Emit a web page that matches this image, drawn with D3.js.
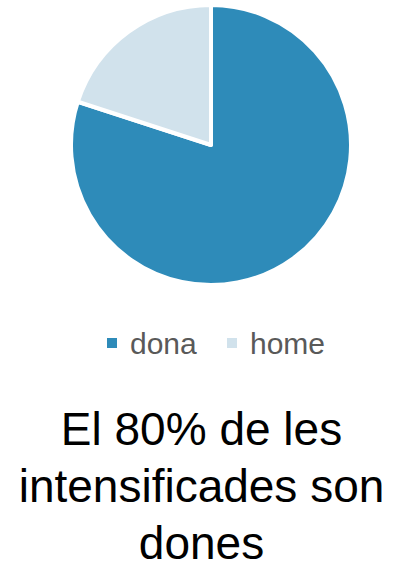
<!DOCTYPE html>
<html>
<head>
<meta charset="utf-8">
<script src="https://cdn.jsdelivr.net/npm/d3@7"></script>
<style>
  html, body { margin: 0; padding: 0; background: #fff; }
  svg { display: block; }
</style>
</head>
<body>
<div id="chart"></div>
<script>
// data
const categories = ["dona", "home"];
const shares = [80, 20];
const sliceColors = ["#2e8bb9", "#d1e2ec"];
const titleLines = ["El 80% de les", "intensificades son", "dones"];

(function () {
  "use strict";

  const width = 403, height = 564;
  const cx = 211, cy = 145, radius = 140;

  const svg = d3.select("#chart").append("svg")
    .attr("width", width)
    .attr("height", height);

  const data = categories.map((c, i) => ({ label: c, value: shares[i] }));

  const color = d3.scaleOrdinal()
    .domain(categories)
    .range(sliceColors);

  const pie = d3.pie()
    .sort(null)
    .value(d => d.value);

  const arc = d3.arc()
    .innerRadius(0)
    .outerRadius(radius);

  svg.append("g")
    .attr("transform", "translate(" + cx + "," + cy + ")")
    .selectAll("path")
    .data(pie(data))
    .join("path")
      .attr("d", arc)
      .attr("fill", d => color(d.data.label))
      .attr("stroke", "#fff")
      .attr("stroke-width", 4)
      .attr("stroke-linejoin", "round");

  // legend
  const legendX = d3.scalePoint()
    .domain(categories)
    .range([107, 227]);

  const legend = svg.append("g")
    .selectAll("g")
    .data(categories)
    .join("g")
      .attr("transform", d => "translate(" + legendX(d) + ",0)");

  legend.append("rect")
    .attr("x", 0)
    .attr("y", 338)
    .attr("width", 10)
    .attr("height", 10)
    .attr("fill", d => color(d));

  legend.append("text")
    .attr("x", 23)
    .attr("y", 354)
    .attr("font-family", "Liberation Sans, Arial, sans-serif")
    .attr("font-size", 30)
    .attr("fill", "#595959")
    .text(d => d);

  // title
  svg.append("g")
    .selectAll("text")
    .data(titleLines)
    .join("text")
      .attr("x", width / 2)
      .attr("y", (d, i) => 445 + i * 57)
      .attr("text-anchor", "middle")
      .attr("font-family", "Liberation Sans, Arial, sans-serif")
      .attr("font-size", 46)
      .attr("fill", "#000")
      .text(d => d);
})();
</script>
</body>
</html>
